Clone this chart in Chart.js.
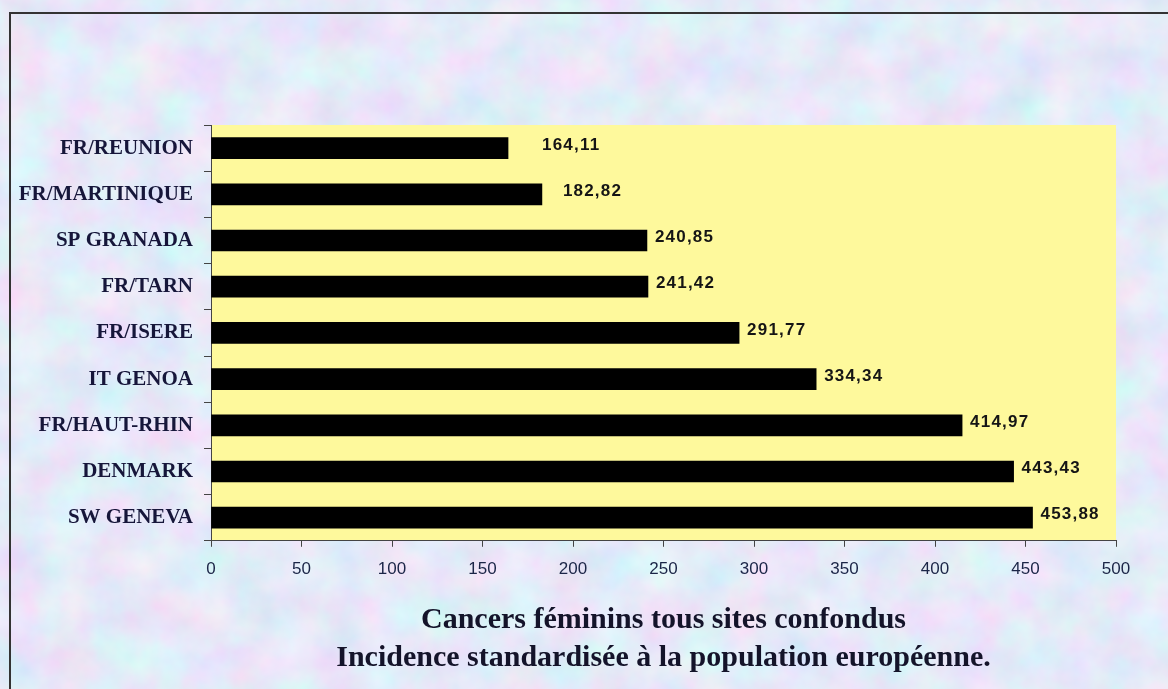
<!DOCTYPE html>
<html>
<head>
<meta charset="utf-8">
<script src="https://cdn.jsdelivr.net/npm/chart.js@4.4.1/dist/chart.umd.min.js"></script>
<style>
  html, body { margin: 0; padding: 0; width: 1168px; height: 689px; overflow: hidden; background: #c8d4f0; }
  #wrap { position: relative; width: 1168px; height: 689px; overflow: hidden; }
  #bg { position: absolute; left: 0; top: 0; }
  #frame { position: absolute; left: 9px; top: 12px; width: 1200px; height: 720px; border: 2px solid #333; box-sizing: border-box; }
  #c { position: absolute; left: 0; top: 0; }
</style>
</head>
<body>
<div id="wrap">
  <svg id="bg" width="1168" height="689" xmlns="http://www.w3.org/2000/svg">
    <filter id="marble" x="0" y="0" width="100%" height="100%">
      <feTurbulence type="fractalNoise" baseFrequency="0.022" numOctaves="4" seed="3"/>
      <feColorMatrix type="matrix" values="
        0.40 0 0 0 0.585
        -0.18 0.28 0 0 0.77
        0 0 0.14 0 0.87
        0 0 0 0 1"/>
    </filter>
    <rect width="1168" height="689" fill="#c8d4f0"/>
    <rect width="1168" height="689" filter="url(#marble)"/>
  </svg>
  <div id="frame"></div>
  <canvas id="c" width="1168" height="689"></canvas>
</div>
<script>
// ---- data ----
const categories = ["FR/REUNION", "FR/MARTINIQUE", "SP GRANADA", "FR/TARN", "FR/ISERE", "IT GENOA", "FR/HAUT-RHIN", "DENMARK", "SW GENEVA"];
const incidence = [164.11, 182.82, 240.85, 241.42, 291.77, 334.34, 414.97, 443.43, 453.88];
const xTickMin = 0;
const xTickMax = 500;
const xTickStep = 50;
const titleLines = ["Cancers féminins tous sites confondus", "Incidence standardisée à la population européenne."];

// ---- style ----
const labelPad = [34, 21, 8, 8, 8, 8, 8, 8, 8];

const plotBg = {
  id: 'plotBg',
  beforeDraw(chart) {
    const { ctx, chartArea: a } = chart;
    ctx.save();
    ctx.fillStyle = '#fef99c';
    ctx.fillRect(a.left, a.top, a.right - a.left, a.bottom - a.top);
    ctx.restore();
  }
};

const valueLabels = {
  id: 'valueLabels',
  afterDatasetsDraw(chart) {
    const { ctx } = chart;
    const meta = chart.getDatasetMeta(0);
    ctx.save();
    ctx.font = 'bold 17px "Liberation Sans", Arial, sans-serif';
    ctx.letterSpacing = '1.2px';
    ctx.fillStyle = '#151515';
    ctx.textAlign = 'left';
    ctx.textBaseline = 'middle';
    meta.data.forEach((bar, i) => {
      const txt = incidence[i].toFixed(2).replace('.', ',');
      ctx.fillText(txt, bar.x + labelPad[i], bar.y - 3);
    });
    ctx.restore();
  }
};

new Chart(document.getElementById('c'), {
  type: 'bar',
  data: {
    labels: categories,
    datasets: [{
      data: incidence,
      backgroundColor: '#000000',
      borderWidth: 0,
      barThickness: 21
    }]
  },
  options: {
    indexAxis: 'y',
    responsive: false,
    animation: false,
    devicePixelRatio: 1,
    layout: { padding: { top: 125, right: 52, left: 0, bottom: 0 } },
    plugins: {
      legend: { display: false },
      tooltip: { enabled: false },
      title: {
        display: true,
        position: 'bottom',
        fullSize: false,
        text: titleLines,
        color: '#14142a',
        font: { family: '"Liberation Serif", "Times New Roman", serif', size: 30, weight: 'bold', lineHeight: 1.27 },
        padding: { top: 0, bottom: 12 }
      }
    },
    scales: {
      x: {
        type: 'linear',
        min: xTickMin,
        max: xTickMax,
        afterFit(s) { s.height = 60; },
        ticks: {
          stepSize: xTickStep,
          color: '#1b2547',
          padding: 12,
          font: { family: '"Liberation Sans", Arial, sans-serif', size: 17 }
        },
        grid: { drawOnChartArea: false, drawTicks: true, tickLength: 6, color: '#444', lineWidth: 1 },
        border: { display: true, color: '#444', width: 1 }
      },
      y: {
        afterFit(s) { s.width = 211; },
        ticks: {
          color: '#16163a',
          padding: 11,
          autoSkip: false,
          font: { family: '"Liberation Serif", "Times New Roman", serif', size: 21, weight: 'bold' }
        },
        grid: { drawOnChartArea: false, drawTicks: true, tickLength: 7, offset: true, color: '#444', lineWidth: 1 },
        border: { display: true, color: '#444', width: 1 }
      }
    }
  },
  plugins: [plotBg, valueLabels]
});
</script>
</body>
</html>
